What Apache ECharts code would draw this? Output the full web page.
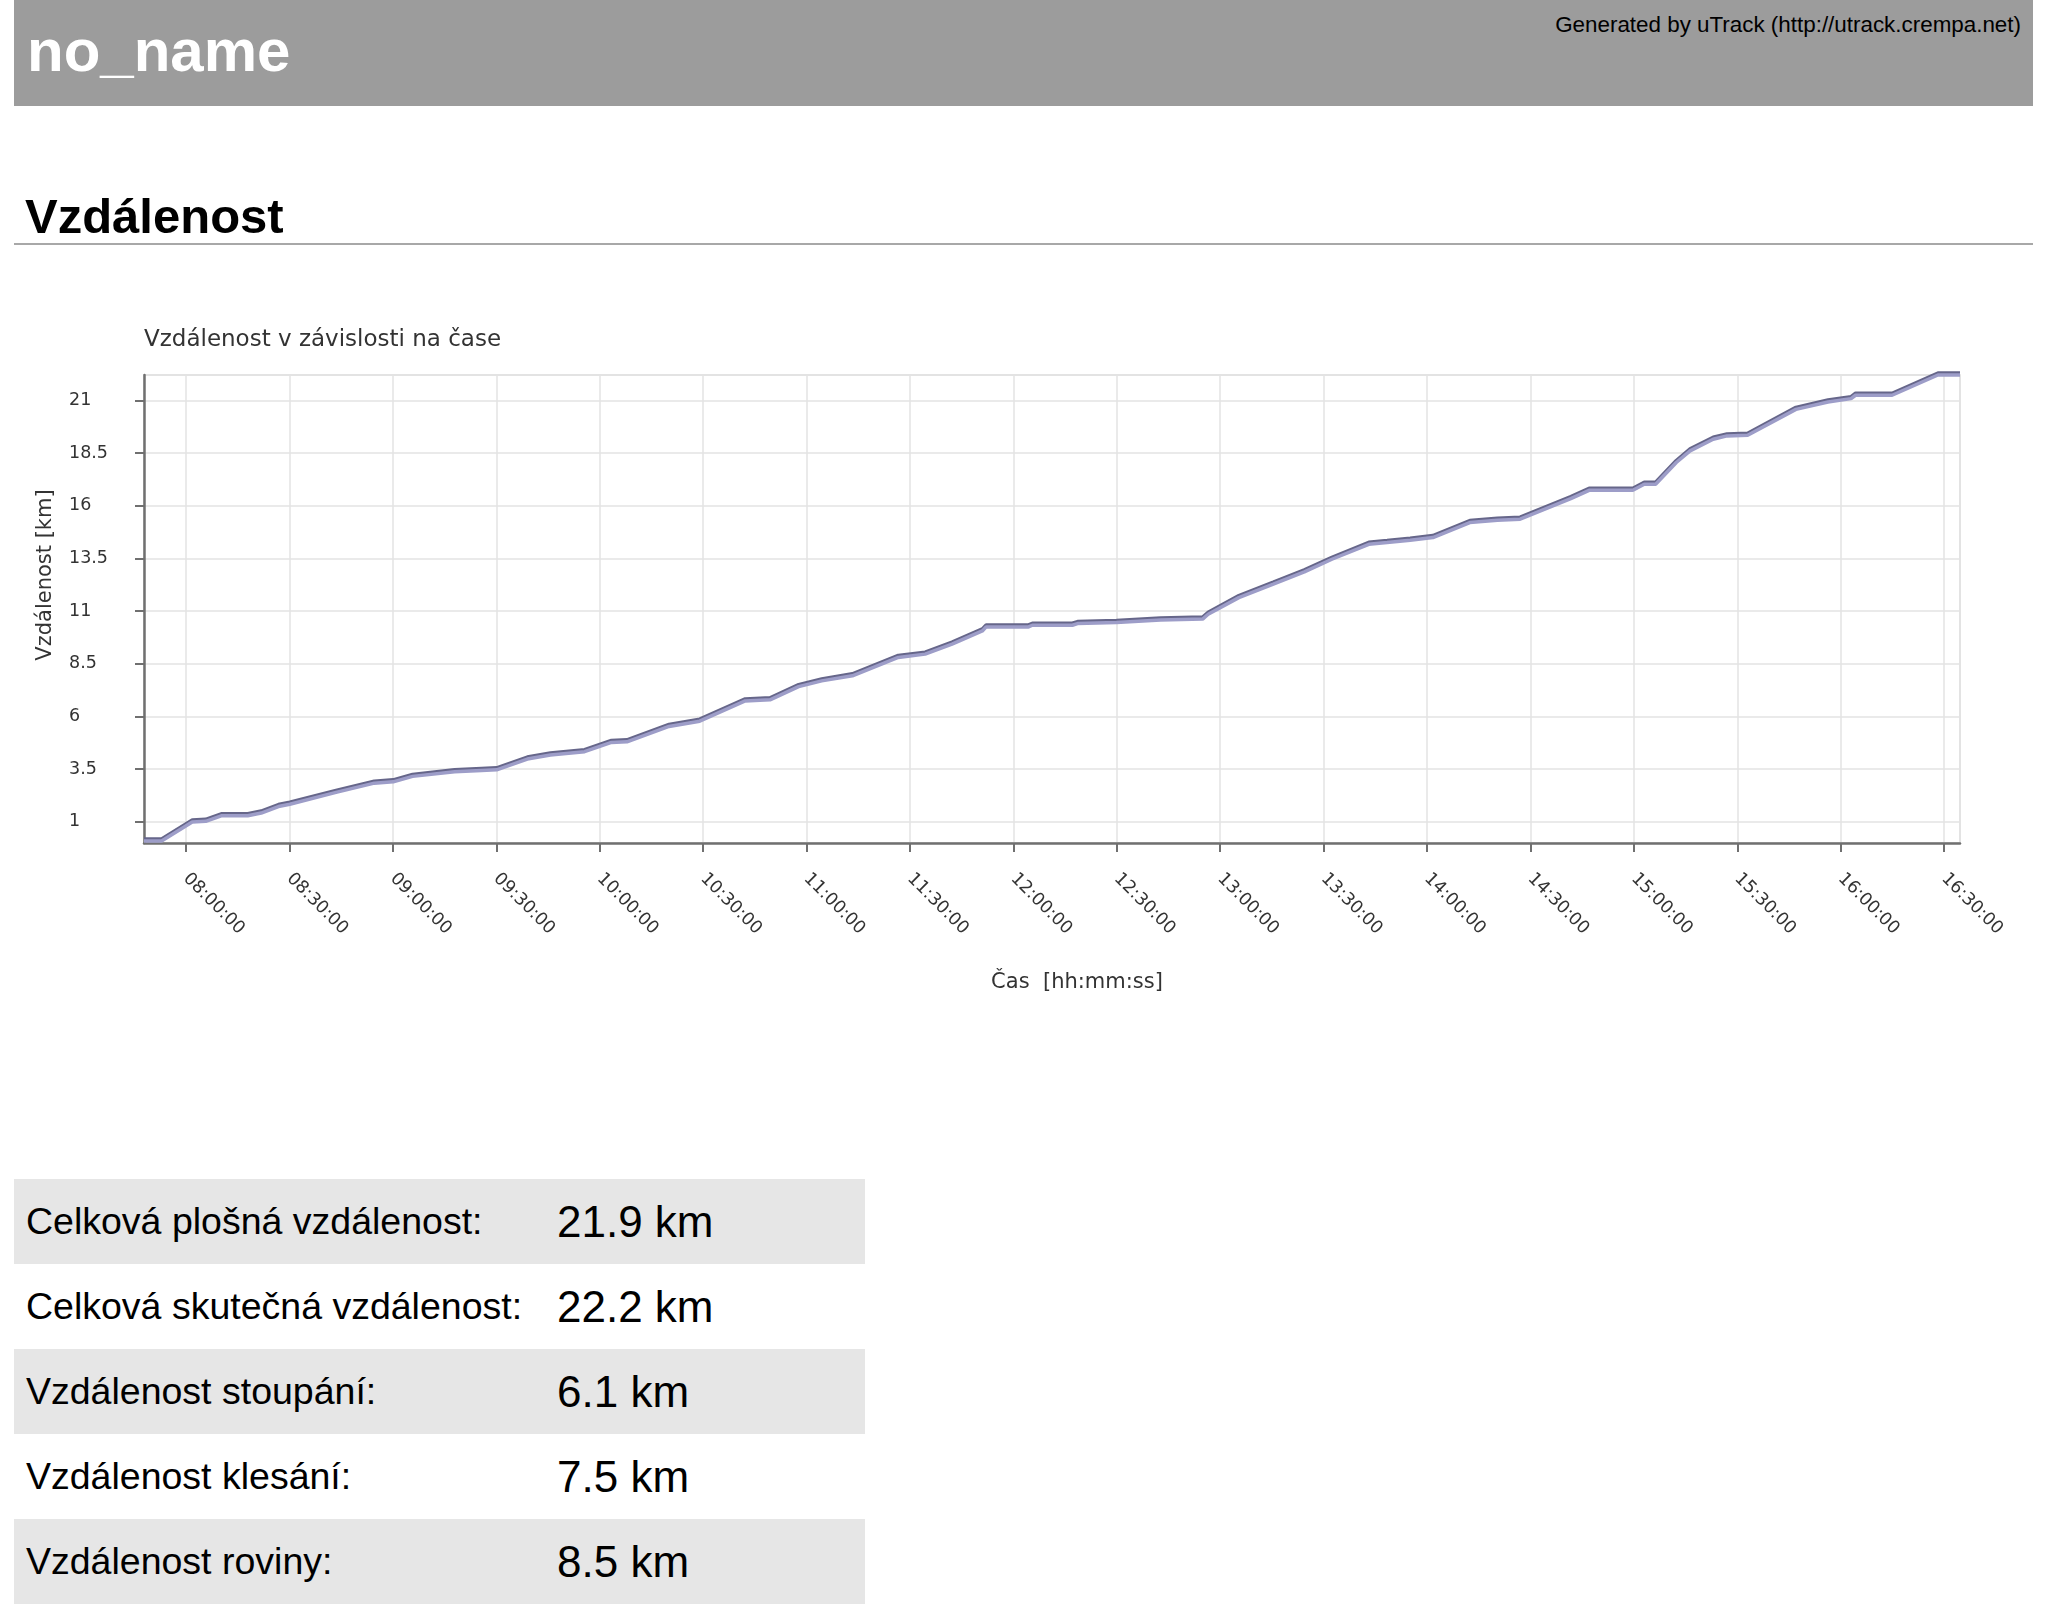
<!DOCTYPE html>
<html>
<head>
<meta charset="utf-8">
<script src="https://cdn.jsdelivr.net/npm/echarts@6/dist/echarts.min.js"></script>
<style>
    body { margin: 0; width: 2048px; height: 1619px; background: #fff; position: relative; font-family: "Liberation Sans", Arial, sans-serif; overflow: hidden; }
    #head { position: absolute; left: 14px; top: 0; width: 2019px; height: 106px; background: #9c9c9c; }
    #head .name { position: absolute; left: 13px; top: 21px; font-size: 60px; line-height: 60px; font-weight: bold; color: #fff; }
    #head .gen { position: absolute; right: 12px; top: 14px; font-size: 22.4px; line-height: 22px; color: #000; }
    #h2 { position: absolute; left: 25px; top: 192px; font-size: 49px; line-height: 49px; font-weight: bold; color: #000; }
    #hr { position: absolute; left: 14px; top: 243px; width: 2019px; height: 2px; background: #a8a8a8; }
    #main { position: absolute; left: 0; top: 300px; width: 2048px; height: 720px; }
    #stats { position: absolute; left: 14px; top: 1179px; width: 851px; border-collapse: collapse; }
    #stats td { height: 85px; padding: 0; vertical-align: middle; color: #000; }
    #stats td.k { width: 531px; padding-left: 12px; font-size: 37.5px; }
    #stats td.v { font-size: 44px; }
    #stats tr:nth-child(odd) { background: #e6e6e6; }
</style>
</head>
<body>
<div id="head">
    <div class="name">no_name</div>
    <div class="gen">Generated by uTrack (http://utrack.crempa.net)</div>
</div>
<div id="h2">Vzdálenost</div>
<div id="hr"></div>
<div id="main"></div>
<table id="stats"><tbody id="statsBody"></tbody></table>
<script>
// čas záznamu a ujetá vzdálenost
var times = ['07:47:48', '07:52:54', '08:01:48', '08:05:42', '08:10:12', '08:17:54', '08:21:48', '08:26:48',
    '08:30:06', '08:43:30', '08:54:36', '09:00:06', '09:05:42', '09:17:54', '09:25:42', '09:30:06',
    '09:39:00', '09:45:42', '09:55:36', '10:03:24', '10:07:54', '10:20:06', '10:29:00', '10:42:12',
    '10:49:24', '10:57:42', '11:04:24', '11:13:18', '11:26:36', '11:34:24', '11:42:12', '11:51:00',
    '11:52:06', '12:04:24', '12:05:30', '12:17:06', '12:18:36', '12:29:54', '12:42:42', '12:54:54',
    '12:56:30', '13:05:24', '13:15:24', '13:24:24', '13:32:24', '13:43:06', '13:48:24', '13:55:06',
    '14:01:42', '14:12:24', '14:20:24', '14:27:00', '14:41:42', '14:47:00', '14:59:42', '15:03:00',
    '15:06:18', '15:12:18', '15:16:18', '15:23:00', '15:27:00', '15:33:00', '15:47:00', '15:56:18',
    '16:03:00', '16:04:18', '16:14:54', '16:28:12', '16:34:36'];
var distKm = [0.1, 0.1, 1.0, 1.03, 1.29, 1.29, 1.42, 1.73,
    1.84, 2.40, 2.84, 2.90, 3.16, 3.38, 3.44, 3.47,
    3.98, 4.17, 4.33, 4.77, 4.80, 5.53, 5.78, 6.74,
    6.79, 7.42, 7.69, 7.93, 8.80, 8.96, 9.43, 10.06,
    10.25, 10.25, 10.33, 10.33, 10.41, 10.46, 10.58, 10.62,
    10.85, 11.64, 12.28, 12.86, 13.46, 14.17, 14.25, 14.36,
    14.49, 15.20, 15.31, 15.36, 16.34, 16.73, 16.73, 17.02,
    17.02, 18.05, 18.60, 19.15, 19.31, 19.34, 20.57, 20.92,
    21.08, 21.24, 21.24, 22.2, 22.2];

var xTicks = ['08:00:00', '08:30:00', '09:00:00', '09:30:00', '10:00:00', '10:30:00', '11:00:00', '11:30:00',
    '12:00:00', '12:30:00', '13:00:00', '13:30:00', '14:00:00', '14:30:00', '15:00:00', '15:30:00',
    '16:00:00', '16:30:00'];
var yTicks = [1, 3.5, 6, 8.5, 11, 13.5, 16, 18.5, 21];

var statLabels = ['Celková plošná vzdálenost:', 'Celková skutečná vzdálenost:', 'Vzdálenost stoupání:',
    'Vzdálenost klesání:', 'Vzdálenost roviny:'];
var statValues = ['21.9 km', '22.2 km', '6.1 km', '7.5 km', '8.5 km'];

// hh:mm:ss -> minuty od půlnoci
function toMin(s) {
    var p = s.split(':');
    return p[0] * 60 + (+p[1]) + p[2] / 60;
}
function pad(n) {
    return (n < 10 ? '0' : '') + n;
}
function fmtMin(m) {
    var t = Math.round(m * 60);
    return pad(Math.floor(t / 3600)) + ':' + pad(Math.floor(t / 60) % 60) + ':' + pad(t % 60);
}

var data = [];
for (var i = 0; i < times.length; i++) {
    data.push([toMin(times[i]), distKm[i]]);
}
var xTickVals = xTicks.map(toMin);

var myChart = echarts.init(document.getElementById('main'));

var option = {
    animation: false,
    title: {
        text: 'Vzdálenost v závislosti na čase',
        left: 144,
        top: 29,
        padding: 0,
        textStyle: {
            fontFamily: 'DejaVu Sans',
            fontSize: 23,
            fontWeight: 'normal',
            color: '#333'
        }
    },
    grid: {
        left: 144,
        right: 88,
        top: 75,
        bottom: 177,
        show: true,
        borderColor: '#dadada',
        borderWidth: 1.5,
        backgroundColor: '#fff'
    },
    xAxis: {
        type: 'value',
        min: 467.8,
        max: 994.6,
        name: 'Čas  [hh:mm:ss]',
        nameLocation: 'middle',
        nameGap: 129,
        nameTextStyle: {
            fontFamily: 'DejaVu Sans',
            fontSize: 21,
            color: '#333',
            padding: [0, 0, 0, 50]
        },
        axisLine: { onZero: false, lineStyle: { color: '#707070', width: 2.5 } },
        axisTick: { customValues: xTickVals, length: 9, lineStyle: { color: '#707070', width: 2 } },
        axisLabel: {
            customValues: xTickVals,
            rotate: -45,
            margin: 33,
            fontFamily: 'DejaVu Sans',
            fontSize: 17.5,
            color: '#333',
            formatter: function (v) { return fmtMin(v); }
        },
        splitLine: { show: true, lineStyle: { color: '#e3e3e3', width: 1.5 } }
    },
    yAxis: {
        type: 'value',
        min: 0,
        max: 22.2,
        name: 'Vzdálenost [km]',
        nameLocation: 'middle',
        nameGap: 88,
        nameTextStyle: {
            fontFamily: 'DejaVu Sans',
            fontSize: 21,
            color: '#333',
            padding: [0, 0, 0, 68]
        },
        axisLine: { show: true, lineStyle: { color: '#707070', width: 2.5 } },
        axisTick: { show: true, customValues: yTicks, length: 9, lineStyle: { color: '#707070', width: 2 } },
        axisLabel: {
            customValues: yTicks,
            align: 'left',
            margin: 75,
            padding: [4, 0, 0, 0],
            fontFamily: 'DejaVu Sans',
            fontSize: 17.5,
            color: '#333'
        },
        splitLine: { show: true, lineStyle: { color: '#e3e3e3', width: 1.5 } }
    },
    series: [{
        type: 'line',
        data: data,
        showSymbol: false,
        clip: false,
        lineStyle: {
            width: 3.5,
            color: '#9d9dc8',
            shadowColor: '#66668a',
            shadowBlur: 0,
            shadowOffsetY: -2
        }
    }]
};

myChart.setOption(option);

// tabulka souhrnu
var rows = '';
for (var j = 0; j < statLabels.length; j++) {
    rows += '<tr><td class="k">' + statLabels[j] + '</td><td class="v">' + statValues[j] + '</td></tr>';
}
document.getElementById('statsBody').innerHTML = rows;
</script>
</body>
</html>
